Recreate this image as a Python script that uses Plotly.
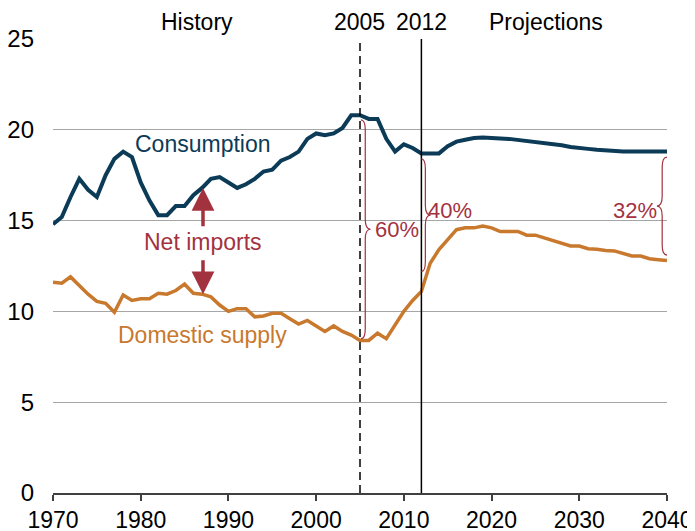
import plotly.graph_objects as go

# Dados (milhões de barris por dia)
years = list(range(1970, 2041))

consumption = [
    14.8, 15.2, 16.3, 17.3, 16.7, 16.3, 17.5, 18.4, 18.8, 18.5,  # 1970-1979
    17.1, 16.1, 15.3, 15.3, 15.8, 15.8, 16.4, 16.8, 17.3, 17.4,  # 1980-1989
    17.1, 16.8, 17.0, 17.3, 17.7, 17.8, 18.3, 18.5, 18.8, 19.5,  # 1990-1999
    19.8, 19.7, 19.8, 20.1, 20.8, 20.8, 20.6, 20.6, 19.5, 18.8,  # 2000-2009
    19.2, 19.0, 18.7, 18.7, 18.7, 19.1, 19.35, 19.45, 19.55, 19.57,  # 2010-2019
    19.57, 19.52, 19.5, 19.45, 19.38, 19.35, 19.3, 19.22, 19.15, 19.05,  # 2020-2029
    18.98, 18.95, 18.9, 18.85, 18.8, 18.8, 18.8, 18.8, 18.8, 18.8,  # 2030-2039
    18.8,
]

domestic_supply = [
    11.6, 11.55, 11.9, 11.4, 10.95, 10.55, 10.45, 9.95, 10.9, 10.6,  # 1970-1979
    10.7, 10.7, 11.0, 10.95, 11.15, 11.5, 11.0, 10.95, 10.8, 10.35,  # 1980-1989
    10.0, 10.15, 10.15, 9.7, 9.75, 9.9, 9.9, 9.6, 9.3, 9.5,  # 1990-1999
    9.2, 8.9, 9.2, 8.9, 8.7, 8.4, 8.4, 8.8, 8.5, 9.25,  # 2000-2009
    10.0, 10.6, 11.1, 12.65, 13.4, 13.95, 14.5, 14.6, 14.6, 14.7,  # 2010-2019
    14.6, 14.4, 14.4, 14.4, 14.2, 14.2, 14.05, 13.9, 13.75, 13.6,  # 2020-2029
    13.6, 13.45, 13.42, 13.35, 13.33, 13.2, 13.05, 13.05, 12.9, 12.85,  # 2030-2039
    12.8,
]

x_ticks = [1970, 1980, 1990, 2000, 2010, 2020, 2030, 2040]
y_ticks = [0, 5, 10, 15, 20, 25]

NAVY = '#0b3b57'
ORANGE = '#c8792d'
RED = '#a3323f'
FONT = 'Liberation Sans, Arial, sans-serif'


def brace_path(x_end, x_spine, x_tip, y_top, y_bot, r=0.55):
    # chave "}" (ou "{" se x_tip < x_spine) em coordenadas de dados
    y_mid = (y_top + y_bot) / 2
    return (
        f'M {x_end},{y_top} Q {x_spine},{y_top} {x_spine},{y_top - r} '
        f'L {x_spine},{y_mid + r} Q {x_spine},{y_mid} {x_tip},{y_mid} '
        f'Q {x_spine},{y_mid} {x_spine},{y_mid - r} '
        f'L {x_spine},{y_bot + r} Q {x_spine},{y_bot} {x_end},{y_bot}'
    )


fig = go.Figure()

fig.add_trace(go.Scatter(
    x=years, y=domestic_supply, mode='lines',
    line=dict(color=ORANGE, width=3.5), cliponaxis=False, showlegend=False
))
fig.add_trace(go.Scatter(
    x=years, y=consumption, mode='lines',
    line=dict(color=NAVY, width=4), cliponaxis=False, showlegend=False
))

# Linhas verticais 2005 / 2012
fig.add_shape(type='line', x0=2005, x1=2005, y0=0, y1=25, xref='x', yref='y',
              line=dict(color='black', width=1.5, dash='8px,5px'))
fig.add_shape(type='line', x0=2012, x1=2012, y0=0, y1=25, xref='x', yref='y',
              line=dict(color='black', width=1.5))

# Chaves
for path in [
    brace_path(2005.1, 2005.6, 2006.2, 20.55, 8.5),
    brace_path(2012.0, 2012.45, 2013.05, 18.4, 12.2),
    brace_path(2040.0, 2039.45, 2038.85, 18.5, 13.1),
]:
    fig.add_shape(type='path', path=path, xref='x', yref='y',
                  line=dict(color=RED, width=1.2))

i87 = years.index(1987)
annotations = [
    dict(x=1987.1, y=19.2, text='Consumption', font=dict(color=NAVY, size=23)),
    dict(x=1987.1, y=8.7, text='Domestic supply', font=dict(color=ORANGE, size=23)),
    dict(x=1987.1, y=13.8, text='Net imports', font=dict(color=RED, size=23)),
    dict(x=2009.2, y=14.5, text='60%', font=dict(color=RED, size=22)),
    dict(x=2015.3, y=15.55, text='40%', font=dict(color=RED, size=22)),
    dict(x=2036.3, y=15.55, text='32%', font=dict(color=RED, size=22)),
]
for a in annotations:
    fig.add_annotation(xref='x', yref='y', showarrow=False, **a)

# Rótulos acima do gráfico (fora do intervalo y -> yref paper)
for x, txt in [(1986.4, 'History'), (2004.9, '2005'),
               (2012.0, '2012'), (2026.2, 'Projections')]:
    fig.add_annotation(x=x, y=1.037, xref='x', yref='paper', text=txt,
                       showarrow=False, yanchor='middle',
                       font=dict(color='black', size=23))

# Setas de importações líquidas
for tip, tail in [(consumption[i87], 14.6), (domestic_supply[i87], 12.9)]:
    fig.add_annotation(
        x=1987.1, y=tip, ax=1987.1, ay=tail, xref='x', yref='y',
        axref='x', ayref='y', text='', showarrow=True,
        arrowhead=2, arrowsize=1.3, arrowwidth=3.5, arrowcolor=RED
    )

# a página tem 8px de margem no body: figura menor para caber na janela
fig.update_layout(
    width=687, height=523,
    margin=dict(l=45, r=28, t=31, b=38),
    paper_bgcolor='white', plot_bgcolor='white',
    font=dict(family=FONT, color='black', size=23),
    xaxis=dict(
        range=[1970, 2040], tickvals=x_ticks, showgrid=False, zeroline=False,
        showline=True, linecolor='#404040', linewidth=1.5,
        ticks='outside', ticklen=6, tickwidth=1.5, tickcolor='#404040',
        tickfont=dict(size=23), ticklabelstandoff=0, automargin=False
    ),
    yaxis=dict(
        range=[0, 25], tickvals=y_ticks, showgrid=True, gridcolor='#a6a6a6',
        gridwidth=1, zeroline=False, showline=False, ticks='',
        tickfont=dict(size=24), ticklabelstandoff=18, automargin=False
    ),
)

fig.write_html('out.html')
